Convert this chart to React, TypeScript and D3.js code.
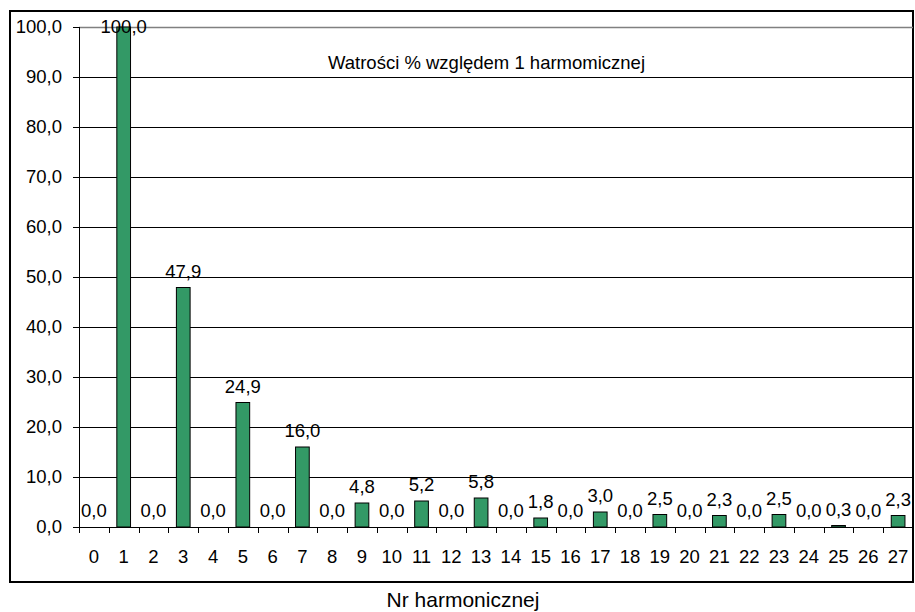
import React, { useEffect, useRef } from 'react';
import * as d3 from 'd3';

// harmonic numbers and their share (%) relative to the 1st harmonic
const HARMONICS = d3.range(0, 28).map(String);
const VALUES = [
  0.0, 100.0, 0.0, 47.9, 0.0, 24.9, 0.0, 16.0, 0.0, 4.8, 0.0, 5.2, 0.0, 5.8,
  0.0, 1.8, 0.0, 3.0, 0.0, 2.5, 0.0, 2.3, 0.0, 2.5, 0.0, 0.3, 0.0, 2.3,
];
const Y_TICKS = [0, 10, 20, 30, 40, 50, 60, 70, 80, 90, 100];
const TITLE = 'Watrości % względem 1 harmomicznej';
const X_TITLE = 'Nr harmonicznej';

const W = 915;
const H = 612;
const FONT = 'Arial, "Liberation Sans", sans-serif';
const FS = 18.5;
const BAR_FILL = '#339966';

const fmt = (v: number) => v.toFixed(1).replace('.', ',');

export default function App() {
  const svgRef = useRef<SVGSVGElement>(null);

  useEffect(() => {
    if (!svgRef.current) return;
    const svg = d3.select(svgRef.current);
    svg.selectAll('*').remove();

    // plot area
    const plot = { left: 79, right: 913, top: 27, bottom: 527 };

    const x = d3.scaleBand<string>()
      .domain(HARMONICS)
      .range([plot.left, plot.right]);

    const y = d3.scaleLinear()
      .domain([0, 100])
      .range([plot.bottom, plot.top]);

    // outer chart border
    svg.append('rect')
      .attr('x', 10).attr('y', 11)
      .attr('width', 903).attr('height', 571)
      .attr('fill', '#fff')
      .attr('stroke', '#000')
      .attr('stroke-width', 2);

    // gridlines
    svg.selectAll('.grid')
      .data(Y_TICKS.filter(t => t > 0 && t < 100))
      .enter().append('line')
      .attr('class', 'grid')
      .attr('x1', plot.left).attr('x2', plot.right)
      .attr('y1', d => Math.round(y(d)) + 0.5)
      .attr('y2', d => Math.round(y(d)) + 0.5)
      .attr('stroke', '#000')
      .attr('stroke-width', 1);

    // plot area border (top, grey)
    svg.append('line')
      .attr('x1', plot.left).attr('x2', plot.right)
      .attr('y1', y(100) + 0.5).attr('y2', y(100) + 0.5)
      .attr('stroke', '#808080').attr('stroke-width', 1.5);

    // title inside the plot
    svg.append('text')
      .attr('x', 328).attr('y', 69)
      .attr('font-family', FONT).attr('font-size', FS)
      .attr('fill', '#000')
      .text(TITLE);

    // bars
    const barW = x.bandwidth() * 0.46;
    svg.selectAll('.bar')
      .data(VALUES)
      .enter().append('rect')
      .attr('class', 'bar')
      .attr('x', (_, i) => (x(HARMONICS[i]) as number) + (x.bandwidth() - barW) / 2)
      .attr('y', d => y(d))
      .attr('width', barW)
      .attr('height', d => y(0) - y(d))
      .attr('fill', BAR_FILL)
      .attr('stroke', d => (d > 0 ? '#000' : 'none'))
      .attr('stroke-width', 1);

    // value labels
    svg.selectAll('.lbl')
      .data(VALUES)
      .enter().append('text')
      .attr('class', 'lbl')
      .attr('x', (_, i) => (x(HARMONICS[i]) as number) + x.bandwidth() / 2)
      .attr('y', d => Math.max(y(d) - 10, y(100) + 6))
      .attr('text-anchor', 'middle')
      .attr('font-family', FONT).attr('font-size', FS)
      .attr('fill', '#000')
      .text(d => fmt(d));

    // y axis
    svg.append('line')
      .attr('x1', plot.left + 0.5).attr('x2', plot.left + 0.5)
      .attr('y1', plot.top).attr('y2', plot.bottom)
      .attr('stroke', '#000');
    svg.selectAll('.ytick')
      .data(Y_TICKS)
      .enter().append('line')
      .attr('x1', plot.left - 6).attr('x2', plot.left)
      .attr('y1', d => Math.round(y(d)) + 0.5)
      .attr('y2', d => Math.round(y(d)) + 0.5)
      .attr('stroke', '#000');
    svg.selectAll('.ylbl')
      .data(Y_TICKS)
      .enter().append('text')
      .attr('x', plot.left - 17)
      .attr('y', d => y(d) + 6)
      .attr('text-anchor', 'end')
      .attr('font-family', FONT).attr('font-size', FS)
      .attr('fill', '#000')
      .text(d => fmt(d));

    // x axis
    svg.append('line')
      .attr('x1', plot.left).attr('x2', plot.right)
      .attr('y1', plot.bottom + 0.5).attr('y2', plot.bottom + 0.5)
      .attr('stroke', '#000');
    svg.selectAll('.xtick')
      .data(HARMONICS)
      .enter().append('line')
      .attr('x1', d => Math.round(x(d) as number) + 0.5)
      .attr('x2', d => Math.round(x(d) as number) + 0.5)
      .attr('y1', plot.bottom).attr('y2', plot.bottom + 6)
      .attr('stroke', '#000');
    svg.selectAll('.xlbl')
      .data(HARMONICS)
      .enter().append('text')
      .attr('x', d => (x(d) as number) + x.bandwidth() / 2)
      .attr('y', plot.bottom + 36)
      .attr('text-anchor', 'middle')
      .attr('font-family', FONT).attr('font-size', FS)
      .attr('fill', '#000')
      .text(d => d);

    // x axis title
    svg.append('text')
      .attr('x', 463).attr('y', 607)
      .attr('text-anchor', 'middle')
      .attr('font-family', FONT).attr('font-size', 21)
      .attr('fill', '#000')
      .text(X_TITLE);
  }, []);

  return (
    <svg
      ref={svgRef}
      width={W}
      height={H}
      style={{ position: 'absolute', left: 0, top: 0, background: '#fff' }}
    />
  );
}
